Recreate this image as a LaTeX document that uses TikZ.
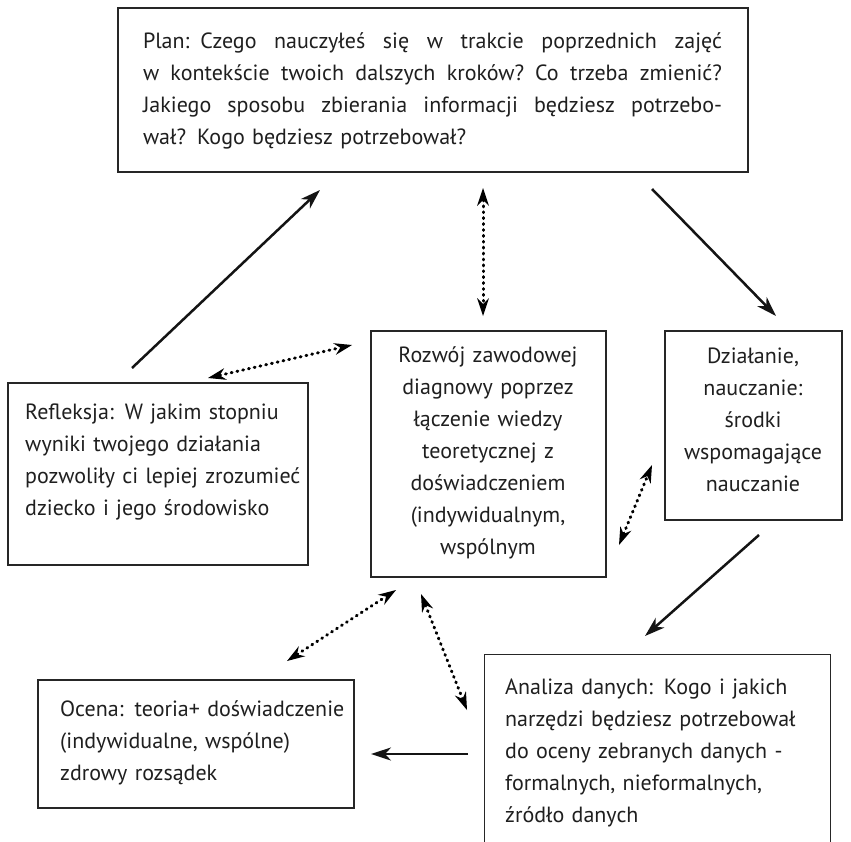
\documentclass[tikz,border=0pt]{standalone}
\usepackage{fontspec}
\setmainfont{PT Sans}
\usetikzlibrary{arrows.meta}
\newcommand\jline[1]{\leavevmode\hbox to 579pt{\spaceskip=\fontdimen2\font plus 1fil\relax #1}}
\begin{document}
\begin{tikzpicture}[x=1pt,y=-1pt,
  box/.style={draw=black!85, line width=1.3pt, inner sep=0pt},
  boxline/.style={draw=black!85, line width=1.3pt},
  txt/.style={inner sep=0pt, font=\fontsize{22}{32}\selectfont, text=black!88},
  solidarrow/.style={line width=2.5pt, draw=black!92, -{Stealth[length=20pt,width=13pt,inset=6pt]}},
  dotarrow/.style={line width=3pt, draw=black, dash pattern=on 0.9pt off 5pt, line cap=round,
     {Stealth[length=18pt,width=12pt,inset=6pt,line width=0pt]}-{Stealth[length=18pt,width=12pt,inset=6pt,line width=0pt]}},
]
\useasboundingbox[fill=white] (0,0) rectangle (851,841);

% boxes
\node[box, minimum width=630pt, minimum height=164pt] (plan) at (433,90) {};
\node[box, minimum width=300pt, minimum height=182pt] (refl) at (158,474) {};
\node[box, minimum width=235pt, minimum height=246pt] (rozw) at (488.5,454) {};
\node[box, minimum width=177pt, minimum height=189pt] (dzial) at (753.5,425.5) {};
\node[box, minimum width=316pt, minimum height=128pt] (ocena) at (196,744) {};
\node[inner sep=0pt, minimum width=345pt, minimum height=200pt] (anal) at (657.5,755) {};
\draw[boxline] (anal.south west) -- (anal.north west) -- (anal.north east) -- (anal.south east);

% texts
\node[txt, text width=579pt, align=left] (plantxt) at (432.5,91) {%
\jline{Plan: Czego nauczyłeś się w trakcie poprzednich zajęć}\\
\jline{w kontekście twoich dalszych kroków? Co trzeba zmienić?}\\
\jline{Jakiego sposobu zbierania informacji będziesz potrzebo-}\\
wał? Kogo będziesz potrzebował?};
\node[txt, text width=285pt, align=left, anchor=west] (refltxt) at (25,461.5) {%
Refleksja: W jakim stopniu\\ wyniki twojego działania\\ pozwoliły ci lepiej zrozumieć\\ dziecko i jego środowisko};
\node[txt, text width=230pt, align=center] (rozwtxt) at (488,453) {%
Rozwój zawodowej\\ diagnowy poprzez\\ łączenie wiedzy\\ teoretycznej z\\ doświadczeniem\\ (indywidualnym,\\ wspólnym};
\node[txt, text width=175pt, align=center] (dzialtxt) at (753,420) {%
Działanie,\\ nauczanie:\\ środki\\ wspomagające\\ nauczanie};
\node[txt, text width=290pt, align=left, anchor=west] (ocenatxt) at (60,743) {%
Ocena: teoria+ doświadczenie\\ (indywidualne, wspólne)\\ zdrowy rozsądek};
\node[txt, text width=320pt, align=left, anchor=west] (analtxt) at (505,753) {%
Analiza danych: Kogo i jakich\\ narzędzi będziesz potrzebował\\ do oceny zebranych danych -\\ formalnych, nieformalnych,\\ źródło danych};

% connector end points
\coordinate (rp1) at (132,368);  \coordinate (rp2) at (320,190);
\coordinate (pd1) at (652,189);  \coordinate (pd2) at (776,316);
\coordinate (da1) at (759,535);  \coordinate (da2) at (645,636);
\coordinate (ao1) at (468,754);  \coordinate (ao2) at (371,754);
\coordinate (pc1) at (483,188);  \coordinate (pc2) at (483,316);
\coordinate (rc1) at (208,378);  \coordinate (rc2) at (352,345);
\coordinate (cd1) at (619,545);  \coordinate (cd2) at (652,465);
\coordinate (co1) at (287,661);  \coordinate (co2) at (396,590);
\coordinate (ca1) at (421,594);  \coordinate (ca2) at (467,710);

% solid arrows
\draw[solidarrow] (rp1) -- (rp2);
\draw[solidarrow] (pd1) -- (pd2);
\draw[solidarrow] (da1) -- (da2);
\draw[solidarrow] (ao1) -- (ao2);

% dotted double arrows
\draw[dotarrow] (pc1) -- (pc2);
\draw[dotarrow] (rc1) -- (rc2);
\draw[dotarrow] (cd1) -- (cd2);
\draw[dotarrow] (co1) -- (co2);
\draw[dotarrow] (ca1) -- (ca2);
\end{tikzpicture}
\end{document}
